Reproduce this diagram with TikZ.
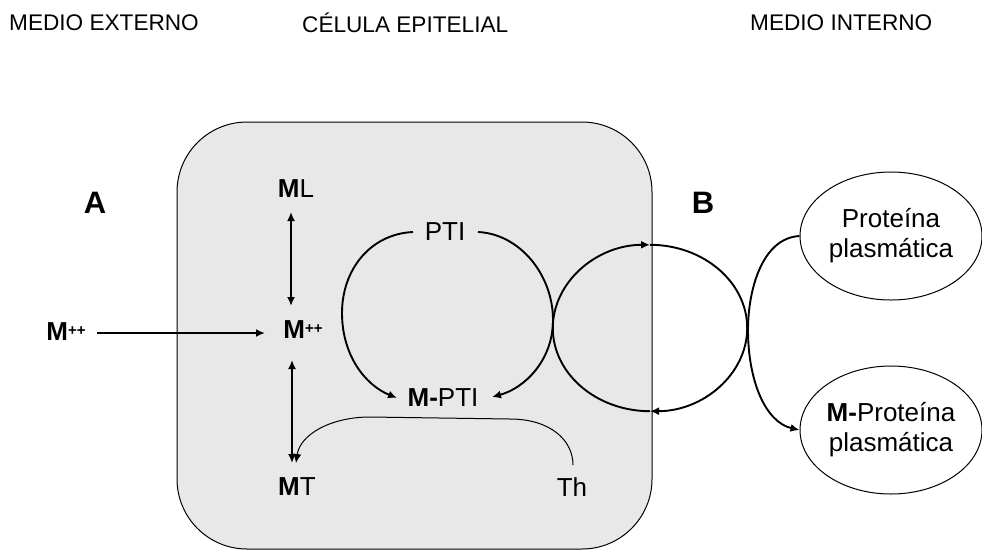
\documentclass[tikz,border=0pt]{standalone}
\usepackage{fontspec}
\setmainfont{Liberation Sans}
\usetikzlibrary{arrows.meta,calc,shapes.geometric}
\definecolor{cellgray}{HTML}{E8E8E8}
\begin{document}
\begin{tikzpicture}[x=1pt,y=-1pt,
  hdr/.style={inner sep=0pt,anchor=west,font=\fontsize{22.6}{26}\selectfont},
  lbl/.style={inner sep=0pt,font=\fontsize{26}{30}\selectfont},
  tag/.style={inner sep=0pt,font=\fontsize{31}{34}\selectfont\bfseries},
  tipshape/.tip={Latex[length=9pt,width=8pt]},
  flow/.style={line width=1.9pt,-tipshape},
  dflow/.style={line width=1.9pt,tipshape-tipshape},
  ring/.style={line width=1.9pt},
  thinflow/.style={line width=1pt,-tipshape},
  blob/.style={ellipse,draw,line width=1pt,inner sep=0pt,align=center,
    font=\fontsize{26}{30}\selectfont,minimum width=182pt,minimum height=128pt}]
\useasboundingbox (0,0) rectangle (982,550);

% epithelial cell
\draw[fill=cellgray,line width=1pt,rounded corners=70pt] (177,122) rectangle (652,549);

% column headings
\node[hdr] (hext) at (9,22.5) {MEDIO EXTERNO};
\node[hdr] (hcel) at (302,22.5) {CÉLULA EPITELIAL};
\node[hdr] (hint) at (750,22.5) {MEDIO INTERNO};

% side tags
\node[tag] (ta) at (95,203) {A};
\node[tag] (tb) at (703,203) {B};

% species
\newcommand{\Mpp}{\textbf{M}\raisebox{5.5pt}{\fontsize{15}{15}\selectfont\bfseries ++}}
\node[lbl] (mext) at (66,332) {\Mpp};
\node[lbl] (mpp) at (303,330) {\Mpp};
\node[lbl] (ml) at (296,189) {\textbf{M}L};
\node[lbl] (mt) at (297,487) {\textbf{M}T};
\node[lbl] (th) at (572,487) {Th};
\node[lbl] (pti) at (445,232) {PTI};
\node[lbl] (mpti) at (443,398) {\textbf{M-}PTI};

% plasma proteins
\node[blob] (p1) at (891,236) {Proteína\\plasmática};
\node[blob] (p2) at (891,430) {\textbf{M-}Proteína\\plasmática};

% exchange cycle across the basolateral side (four quarters)
\node[ellipse,inner sep=0pt,minimum width=194pt,minimum height=166pt] (cyc) at (650,328) {};
\draw[flow] (cyc.west) .. controls +(0,-45.8) and +(-53.5,0) .. (cyc.north);
\draw[ring] (cyc.north) .. controls +(53.5,0) and +(0,-45.8) .. (cyc.east);
\draw[flow] (cyc.east) .. controls +(0,45.8) and +(53.5,0) .. (cyc.south);
\draw[ring] (cyc.south) .. controls +(-53.5,0) and +(0,45.8) .. (cyc.west);

% entry and internal equilibria
\draw[flow] ($(mext)+(31,1)$) -- ($(mpp)+(-38,3)$);
\draw[dflow] ($(ml)+(-5,23)$) -- ($(mpp)+(-12,-24)$);
\draw[dflow] ($(mpp)+(-11,30)$) -- ($(mt)+(-5,-24)$);

% PTI binding loop
\draw[flow] ($(pti)+(-32,0)$) .. controls (370,234) and (342,270) .. (342,313)
  .. controls (342,355) and (365,385) .. ($(mpti)+(-46,0)$);
\draw[flow] ($(pti)+(33,0)$) .. controls (520,234) and (553,275) .. (553,320)
  .. controls (553,360) and (525,388) .. ($(mpti)+(49,-1)$);

% thionein transfer to MT
\draw[thinflow] ($(th)+(1,-22)$) .. controls (573,440) and (550,419) .. (510,419)
  -- (370,417) .. controls (330,417) and (300,435) .. ($(mt)+(-1,-24)$);

% binding to plasma protein
\draw[flow] (p1.west) .. controls (762,238) and (748,290) .. (748,330)
  .. controls (748,380) and (765,422) .. (p2.west);
\end{tikzpicture}
\end{document}
